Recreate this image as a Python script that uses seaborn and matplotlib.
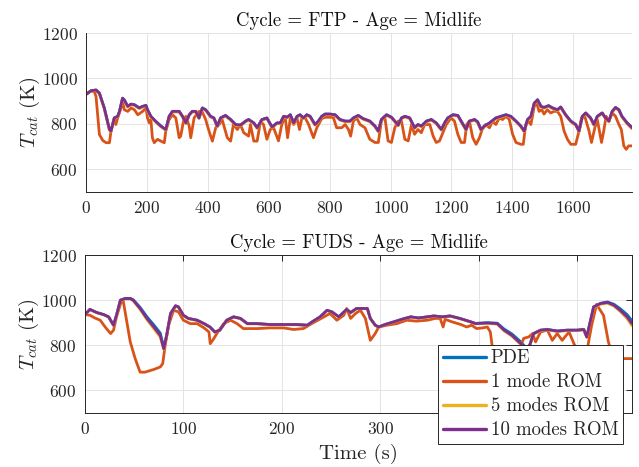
import numpy as np
import pandas as pd
import matplotlib
matplotlib.use("Agg")
import matplotlib.pyplot as plt
import seaborn as sns

# ---------------- FTP cycle (top panel) ----------------
ftp_t = [0, 17, 33, 44, 60, 77, 82, 93, 104, 110, 120, 126, 137, 148, 159, 175, 186,
         197, 202, 213, 229, 246, 262, 273, 284, 306, 317, 328, 339, 349, 360, 371,
         382, 393, 409, 420, 431, 442, 458, 475, 491, 507, 524, 534, 551, 562, 578,
         594, 611, 627, 638, 649, 660, 671, 682, 693, 703, 714, 725, 736, 752, 763,
         774, 785, 801, 818, 834, 851, 867, 878, 894, 910, 932, 949, 960, 970, 987,
         1003, 1014, 1025, 1036, 1047, 1063, 1079, 1090, 1101, 1118, 1134, 1150,
         1167, 1178, 1188, 1205, 1221, 1232, 1248, 1259, 1276, 1286, 1297, 1308,
         1325, 1346, 1363, 1379, 1395, 1412, 1428, 1439, 1450, 1461, 1472, 1483,
         1494, 1504, 1519, 1532, 1548, 1559, 1575, 1592, 1608, 1619, 1630, 1641,
         1657, 1668, 1679, 1695, 1706, 1717, 1728, 1739, 1750, 1760, 1777, 1793]
ftp_pde = [930, 946, 949, 935, 870, 775, 768, 826, 833, 855, 913, 905, 877, 887, 884,
           870, 877, 881, 862, 833, 811, 790, 775, 833, 855, 855, 833, 804, 840, 855,
           855, 826, 870, 862, 833, 826, 790, 826, 837, 819, 797, 794, 812, 819, 804,
           783, 819, 826, 786, 804, 804, 833, 829, 840, 804, 833, 840, 826, 840, 833,
           797, 812, 833, 843, 843, 840, 819, 812, 812, 826, 837, 823, 812, 790, 768,
           819, 840, 829, 812, 794, 826, 833, 826, 783, 797, 790, 812, 819, 804, 775,
           805, 826, 840, 837, 812, 775, 812, 819, 809, 775, 790, 804, 826, 833, 840,
           833, 812, 790, 768, 819, 833, 891, 906, 877, 872, 880, 870, 862, 874, 840,
           812, 797, 768, 833, 848, 826, 797, 833, 848, 826, 812, 855, 872, 862, 833,
           804, 783]
ftp_rom5 = [930, 945, 947, 932, 866, 771, 766, 823, 831, 852, 910, 902, 874, 884, 881,
            867, 874, 878, 858, 829, 808, 787, 772, 830, 852, 852, 830, 801, 837, 852,
            852, 823, 867, 859, 830, 823, 787, 823, 834, 816, 794, 791, 809, 816, 801,
            780, 816, 823, 783, 801, 801, 830, 826, 837, 801, 830, 837, 823, 837, 830,
            794, 809, 830, 840, 840, 837, 816, 809, 809, 823, 834, 820, 809, 787, 765,
            816, 837, 826, 809, 791, 823, 830, 823, 780, 794, 787, 809, 816, 801, 772,
            802, 823, 837, 834, 809, 772, 809, 816, 806, 772, 787, 801, 823, 830, 837,
            830, 809, 787, 765, 816, 830, 888, 903, 874, 869, 877, 867, 859, 871, 837,
            809, 794, 765, 830, 845, 823, 794, 830, 845, 823, 809, 852, 869, 859, 830,
            800, 778]
ftp_rom10 = list(ftp_pde)

ftp_t1 = [0, 17, 28, 33, 39, 44, 55, 66, 77, 82, 93, 98, 104, 115, 120, 126, 137, 148,
          159, 170, 186, 197, 202, 208, 213, 218, 224, 235, 246, 257, 262, 273, 284,
          295, 306, 311, 320, 328, 339, 344, 355, 371, 382, 393, 404, 415, 426, 437,
          447, 464, 475, 484, 497, 507, 518, 534, 540, 551, 562, 573, 583, 594, 605,
          616, 632, 643, 654, 662, 671, 682, 693, 701, 709, 720, 731, 747, 758, 774,
          785, 812, 823, 840, 851, 862, 869, 878, 889, 900, 916, 932, 949, 960, 970,
          981, 992, 1003, 1014, 1025, 1036, 1047, 1058, 1069, 1079, 1090, 1101, 1112,
          1129, 1140, 1150, 1161, 1172, 1183, 1199, 1210, 1221, 1232, 1243, 1250,
          1259, 1270, 1281, 1292, 1301, 1312, 1325, 1335, 1346, 1357, 1368, 1379,
          1390, 1401, 1412, 1428, 1436, 1444, 1453, 1461, 1472, 1480, 1488, 1497,
          1504, 1515, 1526, 1537, 1548, 1559, 1570, 1581, 1592, 1608, 1619, 1627,
          1638, 1652, 1660, 1671, 1679, 1684, 1693, 1701, 1708, 1717, 1728, 1739,
          1750, 1758, 1766, 1774, 1782, 1793]
ftp_rom1 = [930, 946, 940, 920, 826, 753, 727, 717, 717, 768, 826, 797, 826, 870, 898,
            862, 855, 870, 862, 840, 855, 870, 826, 804, 819, 739, 717, 732, 724, 717,
            768, 819, 840, 826, 739, 746, 811, 833, 790, 739, 826, 855, 852, 819, 768,
            724, 783, 797, 819, 739, 724, 797, 775, 797, 761, 746, 797, 724, 724, 811,
            797, 732, 775, 783, 725, 797, 833, 739, 826, 797, 826, 775, 826, 826, 797,
            739, 783, 823, 829, 829, 783, 783, 797, 775, 746, 812, 826, 797, 783, 732,
            718, 718, 812, 833, 725, 718, 783, 812, 812, 732, 725, 797, 754, 775, 761,
            797, 797, 746, 718, 725, 761, 797, 826, 812, 754, 718, 718, 797, 812, 739,
            710, 739, 775, 797, 783, 812, 797, 826, 819, 833, 819, 754, 718, 710, 710,
            797, 812, 797, 877, 891, 855, 862, 843, 862, 848, 855, 855, 833, 768, 732,
            710, 710, 768, 826, 833, 768, 718, 783, 819, 783, 718, 775, 833, 812, 848,
            833, 797, 775, 703, 688, 703, 703]

# ---------------- FUDS cycle (bottom panel) ----------------
fuds_t = [0, 5, 12, 19, 24, 29, 32, 36, 41, 46, 49, 56, 63, 70, 76.5, 80, 83, 87, 92,
          95, 100, 105, 114, 121, 127, 132, 137, 144, 151, 158, 165, 175, 188, 202, 215,
          226, 232, 239, 246, 251, 258, 266, 270, 276, 283, 287, 290, 295, 298.5, 305,
          314, 322, 331, 339, 348, 354.5, 363, 371, 381, 392, 397, 409, 419, 426, 434,
          443, 448, 452, 456, 463, 470, 480, 490, 500, 507, 510, 517, 524, 531, 537.5,
          544, 551, 556]
fuds_pde = [936, 959, 945, 936, 926, 889, 933, 1000, 1008, 1008, 1002, 968, 926, 890,
            854, 790, 844, 941, 975, 970, 933, 919, 911, 896, 881, 859, 867, 911, 926,
            919, 896, 896, 892, 892, 892, 889, 907, 926, 955, 948, 926, 959, 945, 963,
            963, 963, 919, 889, 881, 892, 904, 915, 926, 921, 926, 930, 926, 930, 919,
            904, 897, 900, 898, 872, 850, 815, 790, 800, 852, 867, 870, 863, 867, 867,
            870, 837, 970, 986, 992, 982, 962, 936, 908]
fuds_rom5 = [936, 958, 944, 935, 925, 888, 932, 998, 1005, 1004, 997, 959, 913, 873,
             836, 782, 842, 940, 974, 969, 932, 918, 910, 895, 880, 858, 866, 910, 925,
             918, 895, 895, 891, 891, 891, 888, 906, 925, 954, 947, 925, 958, 944, 962,
             962, 962, 918, 888, 880, 891, 903, 914, 925, 920, 925, 929, 925, 929, 918,
             903, 895, 897, 894, 864, 840, 803, 782, 798, 850, 865, 868, 861, 865, 865,
             868, 835, 966, 982, 986, 974, 950, 918, 886]
fuds_rom10 = [936, 959, 945, 936, 926, 889, 933, 1000, 1007, 1007, 1000, 963, 919, 881,
              844, 785, 844, 941, 975, 970, 933, 919, 911, 896, 881, 859, 867, 911, 926,
              919, 896, 896, 892, 892, 892, 889, 907, 926, 955, 948, 926, 959, 945, 963,
              963, 963, 919, 889, 881, 892, 904, 915, 926, 921, 926, 930, 926, 930, 919,
              904, 896, 899, 896, 867, 844, 807, 785, 800, 852, 867, 870, 863, 867, 867,
              870, 837, 970, 985, 990, 978, 955, 926, 896]

fuds_t1 = [0, 5, 10, 15.5, 20.5, 26, 29, 32, 37, 39, 42.5, 46, 51, 56, 61, 70, 76.5, 79,
           81.5, 85, 90, 95, 100, 107, 114, 121, 126, 127.3, 131, 134, 141, 148, 154.5,
           161, 175, 188, 202, 212, 222, 232, 243, 249, 256, 263, 266, 270, 275, 280,
           285, 290, 295, 298.5, 307, 317, 327, 337, 348, 356, 361, 364, 366, 373, 382,
           388, 393, 398, 404, 409, 412, 415.5, 420, 435, 446, 451, 455, 458, 463, 470,
           475, 480, 485, 492, 497, 502, 510, 515, 520, 527, 532, 536, 544, 556]
fuds_rom1 = [936, 933, 921, 911, 881, 852, 867, 926, 996, 993, 904, 815, 741, 681, 681,
             693, 704, 719, 800, 889, 955, 948, 911, 896, 896, 877, 859, 807, 830, 852,
             896, 911, 896, 874, 874, 877, 877, 870, 874, 900, 926, 941, 911, 933, 963,
             919, 941, 955, 919, 822, 852, 881, 889, 896, 911, 907, 911, 919, 919, 881,
             915, 904, 892, 881, 889, 874, 877, 881, 859, 741, 700, 715, 831, 837, 852,
             815, 859, 867, 822, 852, 822, 859, 807, 760, 770, 889, 981, 933, 815, 755,
             741, 741]

labels = ["PDE", "1 mode ROM", "5 modes ROM", "10 modes ROM"]
colors = ["#0072BD", "#D95319", "#EDB120", "#7E2F8E"]


def long_frame(t_ref, pde, rom5, rom10, t1, rom1):
    parts = [
        pd.DataFrame({"t": t_ref, "T": pde, "model": labels[0]}),
        pd.DataFrame({"t": t1, "T": rom1, "model": labels[1]}),
        pd.DataFrame({"t": t_ref, "T": rom5, "model": labels[2]}),
        pd.DataFrame({"t": t_ref, "T": rom10, "model": labels[3]}),
    ]
    return pd.concat(parts, ignore_index=True)


ftp_df = long_frame(ftp_t, ftp_pde, ftp_rom5, ftp_rom10, ftp_t1, ftp_rom1)
fuds_df = long_frame(fuds_t, fuds_pde, fuds_rom5, fuds_rom10, fuds_t1, fuds_rom1)

sns.set_theme(style="white")
plt.rcParams["font.family"] = ["serif"]
plt.rcParams["font.serif"] = ["cmr10", "DejaVu Serif"]
plt.rcParams["mathtext.fontset"] = "cm"
plt.rcParams["axes.unicode_minus"] = False
plt.rcParams["axes.formatter.use_mathtext"] = True

axis_col = "#262626"
grid_col = "#e4e4e4"

fig = plt.figure(figsize=(6.39, 4.67), dpi=100)
ax1 = fig.add_axes([86 / 639, 1 - 192 / 467, (632 - 86) / 639, (192 - 33) / 467])
ax2 = fig.add_axes([85 / 639, 1 - 413 / 467, (632 - 85) / 639, (413 - 255) / 467])

palette = dict(zip(labels, colors))

sns.lineplot(data=ftp_df, x="t", y="T", hue="model", hue_order=labels,
             palette=palette, estimator=None, sort=False, linewidth=2.0,
             legend=False, ax=ax1)
sns.lineplot(data=fuds_df, x="t", y="T", hue="model", hue_order=labels,
             palette=palette, estimator=None, sort=False, linewidth=2.0,
             legend=True, ax=ax2)

for ax in (ax1, ax2):
    ax.set_ylim(500, 1200)
    ax.set_yticks([600, 800, 1000, 1200])
    ax.grid(True, color=grid_col, linewidth=0.7)
    ax.set_axisbelow(True)
    ax.set_ylabel(r"$T_{cat}$ (K)", fontsize=15, labelpad=0)
    for sp in ax.spines.values():
        sp.set_color(axis_col)
        sp.set_linewidth(0.7)
    ax.tick_params(axis="both", direction="in", length=4, width=0.7,
                   color=axis_col, labelcolor=axis_col, labelsize=12.5, pad=6)

ax1.set_xlim(0, 1793)
ax1.set_xticks(np.arange(0, 1601, 200))
ax1.spines["top"].set_visible(False)
ax1.spines["right"].set_visible(False)
ax1.set_xlabel("")
ax1.set_title("Cycle = FTP - Age = Midlife", fontsize=13.5, pad=5, color="#111111")

ax2.set_xlim(0, 556)
ax2.set_xticks(np.arange(0, 501, 100))
ax2.tick_params(top=True, right=True)
ax2.set_xlabel("Time (s)", fontsize=15, labelpad=4)
ax2.set_title("Cycle = FUDS - Age = Midlife", fontsize=13.5, pad=5, color="#111111")

sns.move_legend(ax2, loc="lower right", bbox_to_anchor=(0.984, -0.197),
                title=None, frameon=True, fancybox=False, framealpha=1,
                edgecolor=axis_col, fontsize=13.5, handlelength=2.3,
                handletextpad=0.25, labelspacing=0.33, borderpad=0.25,
                borderaxespad=0)
leg = ax2.get_legend()
leg.get_frame().set_linewidth(0.7)
leg.set_zorder(10)
for h in leg.get_lines():
    h.set_linewidth(2.4)

fig.savefig("out.png", dpi=100)
